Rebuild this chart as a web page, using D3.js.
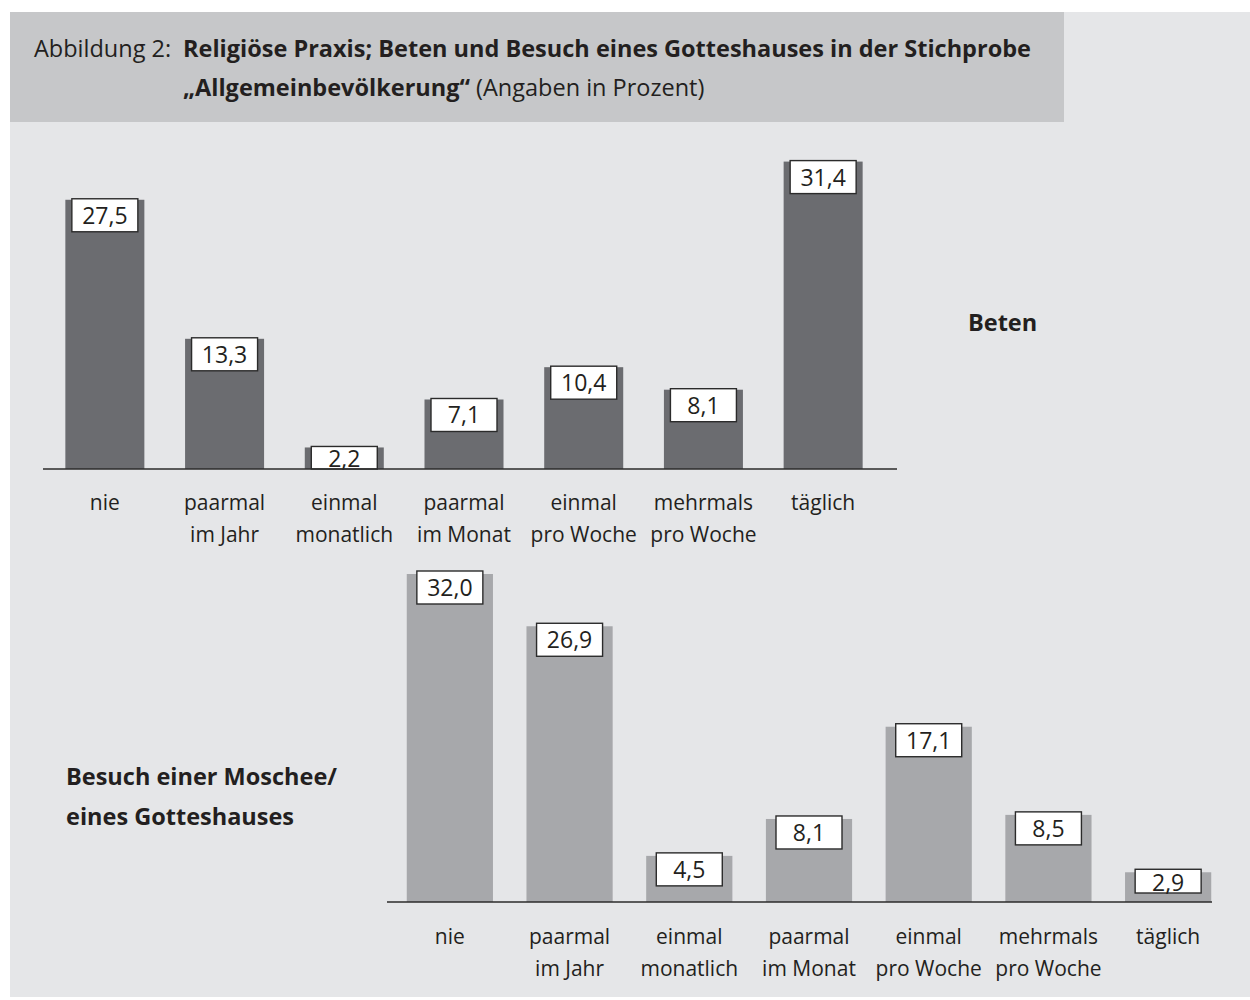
<!DOCTYPE html>
<html lang="de">
<head>
<meta charset="utf-8">
<title>Religiöse Praxis</title>
<script src="https://cdn.jsdelivr.net/npm/d3@7/dist/d3.min.js"></script>
<style>
  html, body { margin: 0; padding: 0; background: #ffffff; }
  svg { display: block; font-family: "Open Sans", "Noto Sans", sans-serif; }
</style>
</head>
<body>
<svg id="chart" width="1250" height="1000"></svg>
<script>
// Frequency categories (two-line axis labels)
const categories = [
  ["nie"],
  ["paarmal", "im Jahr"],
  ["einmal", "monatlich"],
  ["paarmal", "im Monat"],
  ["einmal", "pro Woche"],
  ["mehrmals", "pro Woche"],
  ["täglich"]
];
const categoryKeys = categories.map(c => c.join(" "));

// Percentages: praying
const betenValues = [27.5, 13.3, 2.2, 7.1, 10.4, 8.1, 31.4];
// Percentages: visiting a mosque / house of worship
const besuchValues = [32.0, 26.9, 4.5, 8.1, 17.1, 8.5, 2.9];

const titlePrefix = "Abbildung 2:";
const titleBold1 = "Religiöse Praxis; Beten und Besuch eines Gotteshauses in der Stichprobe";
const titleBold2 = "„Allgemeinbevölkerung“";
const titleRest2 = " (Angaben in Prozent)";
const betenLabel = ["Beten"];
const besuchLabel = ["Besuch einer Moschee/", "eines Gotteshauses"];

const de = d3.formatLocale({ decimal: ",", thousands: ".", grouping: [3], currency: ["", " €"] });
const fmt = de.format(".1f");

const svg = d3.select("#chart");
const textColor = "#231f20";

// Background panel and title band
svg.append("rect").attr("x", 10).attr("y", 12).attr("width", 1240).attr("height", 985).attr("fill", "#e5e6e8");
svg.append("rect").attr("x", 10).attr("y", 12).attr("width", 1054).attr("height", 110).attr("fill", "#c6c7c9");

// Title
const titleSize = 23.5;
svg.append("text").attr("x", 34).attr("y", 57).attr("font-size", titleSize).attr("fill", textColor)
  .text(titlePrefix);
svg.append("text").attr("x", 183).attr("y", 57).attr("font-size", titleSize).attr("font-weight", 700)
  .attr("fill", textColor).text(titleBold1);
const t2 = svg.append("text").attr("x", 183).attr("y", 96).attr("font-size", titleSize).attr("fill", textColor);
t2.append("tspan").attr("font-weight", 700).text(titleBold2);
t2.append("tspan").text(titleRest2);

function drawPanel(cfg) {
  const g = svg.append("g");
  const x = d3.scaleBand().domain(categoryKeys).range(cfg.xRange)
    .paddingInner(cfg.padIn).paddingOuter(cfg.padOut);
  const y = d3.scaleLinear().domain([0, 35]).range([cfg.base, cfg.base - 35 * cfg.pxPerUnit]);

  const data = cfg.values.map((v, i) => ({ key: categoryKeys[i], lines: categories[i], value: v }));

  g.selectAll("rect.bar").data(data).join("rect")
    .attr("class", "bar")
    .attr("x", d => x(d.key))
    .attr("y", d => y(d.value))
    .attr("width", x.bandwidth())
    .attr("height", d => y(0) - y(d.value))
    .attr("fill", cfg.barColor);

  // white value boxes sitting on top of each bar
  const boxW = 66, boxH = 33;
  const lab = g.selectAll("g.lab").data(data).join("g").attr("class", "lab");
  lab.append("rect")
    .attr("x", d => x(d.key) + x.bandwidth() / 2 - boxW / 2)
    .attr("y", d => y(d.value) - cfg.boxLift)
    .attr("width", boxW)
    .attr("height", d => {
      const top = y(d.value) - cfg.boxLift;
      return Math.min(top + boxH, cfg.base - cfg.boxFloor) - top;
    })
    .attr("fill", "#ffffff")
    .attr("stroke", "#2b2b2b")
    .attr("stroke-width", 1.4);
  lab.append("text")
    .attr("x", d => x(d.key) + x.bandwidth() / 2)
    .attr("y", d => {
      const top = y(d.value) - cfg.boxLift;
      return Math.min(top + 25, cfg.base - cfg.boxFloor - 2);
    })
    .attr("text-anchor", "middle")
    .attr("font-size", 23)
    .attr("fill", textColor)
    .text(d => fmt(d.value));

  // baseline
  g.append("line")
    .attr("x1", cfg.lineX[0]).attr("x2", cfg.lineX[1])
    .attr("y1", y(0)).attr("y2", y(0))
    .attr("stroke", "#2b2b2b").attr("stroke-width", 1.6);

  // category labels
  const cl = g.selectAll("text.cat").data(data).join("text")
    .attr("class", "cat")
    .attr("text-anchor", "middle")
    .attr("font-size", 21)
    .attr("fill", textColor);
  cl.selectAll("tspan").data(d => d.lines.map(l => ({ l, cx: x(d.key) + x.bandwidth() / 2 }))).join("tspan")
    .attr("x", d => d.cx)
    .attr("y", (d, i) => cfg.catY + i * 32)
    .text(d => d.l);

  // series caption
  g.append("text")
    .attr("font-size", 23.5).attr("font-weight", 700).attr("fill", textColor)
    .selectAll("tspan").data(cfg.caption).join("tspan")
    .attr("x", cfg.captionPos[0])
    .attr("y", (d, i) => cfg.captionPos[1] + i * 40)
    .text(d => d);
}

drawPanel({
  values: betenValues,
  xRange: [45, 883], padIn: 0.34, padOut: 0.17,
  base: 469, pxPerUnit: 9.79,
  barColor: "#6b6c70",
  boxLift: 1, boxFloor: 0,
  lineX: [43, 897],
  catY: 510,
  caption: betenLabel, captionPos: [968, 331]
});

drawPanel({
  values: besuchValues,
  xRange: [390, 1228], padIn: 0.28, padOut: 0.14,
  base: 902, pxPerUnit: 10.25,
  barColor: "#a7a8ab",
  boxLift: 3, boxFloor: 9,
  lineX: [387, 1212],
  catY: 944,
  caption: besuchLabel, captionPos: [66, 785]
});
</script>
</body>
</html>
